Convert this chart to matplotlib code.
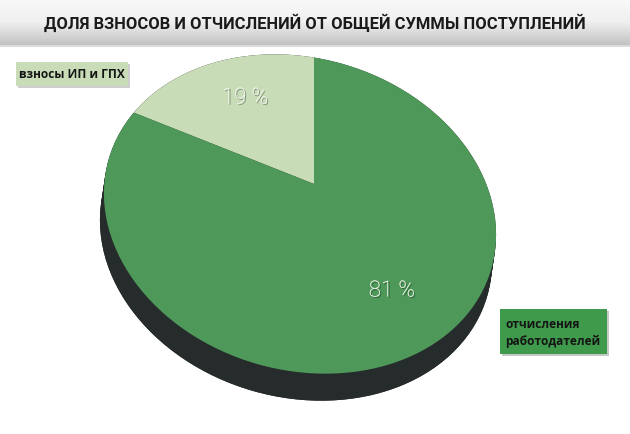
import numpy as np
import matplotlib
matplotlib.use("Agg")
import matplotlib.pyplot as plt
from matplotlib.patches import Ellipse, Rectangle
import matplotlib.patheffects as pe

# ---- data ----
categories = ["взносы ИП и ГПХ", "отчисления\nработодателей"]
values = [19, 81]
title = "ДОЛЯ ВЗНОСОВ И ОТЧИСЛЕНИЙ ОТ ОБЩЕЙ СУММЫ ПОСТУПЛЕНИЙ"

# ---- style ----
col_light = "#c7dcb7"
col_dark = "#4e9959"
col_side = "#262b2c"
box_light = "#c8dcb8"
box_dark = "#3f9b4b"

W, H = 630, 435
fig = plt.figure(figsize=(W / 100, H / 100), dpi=100)
ax = fig.add_axes([0, 0, 1, 1])
ax.set_xlim(0, W)
ax.set_ylim(0, H)

def py(y):
    return H - y

# pie geometry (pixels)
cx, cy, a, b, rot = 300, 215, 199, 156, -16
dx, depth = -4, 27

# side of the 3D pie
ax.add_patch(Ellipse((cx + dx, py(cy + depth)), 2 * a, 2 * b, angle=rot,
                     fc=col_side, ec="none", zorder=2))
for k in np.linspace(0, 1, 12):
    ax.add_patch(Ellipse((cx + dx * k, py(cy + depth * k)), 2 * a, 2 * b,
                         angle=rot, fc=col_side, ec="none", zorder=2))

wedges, _ = ax.pie(values, colors=[col_light, col_dark], startangle=90,
                   counterclock=True, center=(314, py(185)), radius=320,
                   wedgeprops=dict(linewidth=0), frame=True)
ax.set_xlim(0, W)
ax.set_ylim(0, H)
ax.set_aspect("auto")

top = Ellipse((cx, py(cy)), 2 * a, 2 * b, angle=rot, fc="none",
              ec="none", zorder=4)
ax.add_patch(top)
for w in wedges:
    w.set_zorder(3)
    w.set_clip_on(True)
    w.set_clip_path(top)

# title bar gradient
grad = np.linspace(0, 1, 100).reshape(-1, 1)
ax.imshow(grad, cmap=matplotlib.colors.LinearSegmentedColormap.from_list(
    "g", ["#f9f9f9", "#efefef", "#c2c2c2"]), extent=[0, W, py(46), py(0)],
    aspect="auto", zorder=1)
ax.add_patch(Rectangle((0, py(48)), W, 2, fc="#dcdcdc", ec="none", zorder=1))
ttl = ax.text(W / 2, py(23), title, ha="center", va="center", fontsize=17,
              fontweight="bold", family="Roboto", color="#1a1a1a", zorder=5)
fig.canvas.draw()
wpx = ttl.get_window_extent().width
ttl.set_fontsize(17 * 540 / wpx)

shadow = [pe.withSimplePatchShadow(offset=(1, -1), shadow_rgbFace="black",
                                   alpha=0.45), pe.Normal()]
ax.text(245, py(99), f"{values[0]} %", ha="center", va="center",
        fontsize=16, color="#f2f4ee", family="Roboto",
        fontweight="light", path_effects=shadow, zorder=6)
ax.text(392, py(292), f"{values[1]} %", ha="center", va="center",
        fontsize=16, color="#f2f4ee", family="Roboto",
        fontweight="light", path_effects=shadow, zorder=6)

# category labels
box_shadow = [pe.withSimplePatchShadow(offset=(1.5, -1.5), alpha=0.25),
              pe.Normal()]
ax.add_patch(Rectangle((16, py(87)), 112, 24, fc=box_light, ec="none",
                       zorder=5, path_effects=box_shadow))
ax.text(72, py(75), categories[0], ha="center", va="center", fontsize=8.6,
        fontweight="bold", family="Open Sans", color="#151515", zorder=6)
ax.add_patch(Rectangle((500, py(355)), 107, 45, fc=box_dark, ec="none",
                       zorder=5, path_effects=box_shadow))
ax.text(505, py(333), categories[1], ha="left", va="center", fontsize=8.6,
        fontweight="bold", family="Open Sans", color="#151515",
        linespacing=1.45, zorder=6)

ax.set_xlim(0, W)
ax.set_ylim(0, H)
ax.axis("off")
fig.savefig("out.png", dpi=100, facecolor="white")
